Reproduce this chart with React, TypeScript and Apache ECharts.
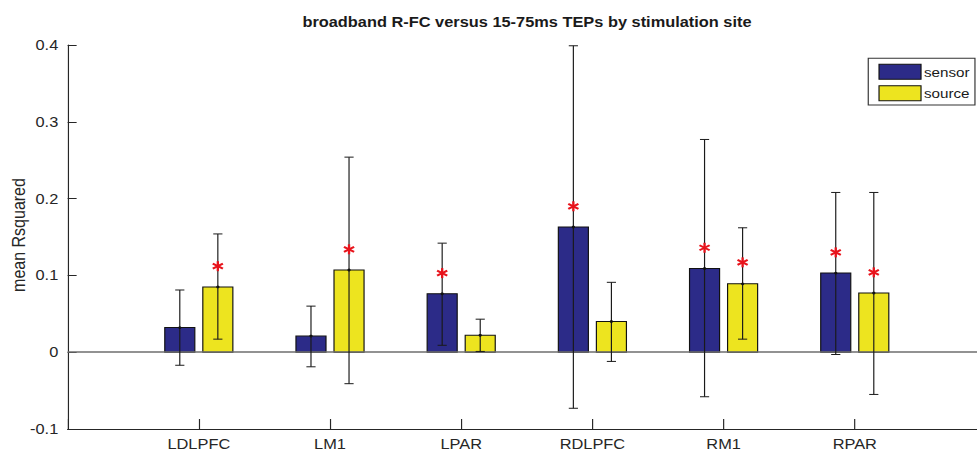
import React, { useEffect, useRef } from "react";
import * as echarts from "echarts";

const categories = ["LDLPFC", "LM1", "LPAR", "RDLPFC", "RM1", "RPAR"];
const sensorMean = [0.032, 0.021, 0.076, 0.163, 0.109, 0.103];
const sensorLow = [-0.017, -0.019, 0.009, -0.073, -0.058, -0.003];
const sensorHigh = [0.081, 0.06, 0.142, 0.399, 0.277, 0.208];
const sourceMean = [0.085, 0.107, 0.022, 0.04, 0.089, 0.077];
const sourceLow = [0.017, -0.041, 0.001, -0.012, 0.017, -0.055];
const sourceHigh = [0.154, 0.254, 0.043, 0.091, 0.162, 0.208];
const sensorStar: (number | null)[] = [null, null, 0.103, 0.19, 0.136, 0.13];
const sourceStar: (number | null)[] = [0.112, 0.134, null, null, 0.117, 0.104];
const yTicks = [-0.1, 0, 0.1, 0.2, 0.3, 0.4];
const yAxisTitle = "mean Rsquared";
const chartTitle = "broadband R-FC versus 15-75ms TEPs by stimulation site";

const STRETCH = 1.17;
const INNER_W = 835;
const H = 453;
const GROUP_OFFSET = 0.145;
const BAR_W = 0.229;
const CAP_W = 0.07;
const FONT = "'Liberation Sans', Arial, Helvetica, sans-serif";
const SENSOR_COLOR = "#2c2b88";
const SOURCE_COLOR = "#ede41f";

function barSeries(name: string, means: number[], offset: number, color: string) {
  return {
    type: "custom",
    name,
    data: means.map((v, i) => [i + 1 + offset, v]),
    encode: { x: 0, y: 1 },
    z: 2,
    renderItem: (params: any, api: any) => {
      const x = api.value(0);
      const v = api.value(1);
      const a = api.coord([x - BAR_W / 2, v]);
      const b = api.coord([x + BAR_W / 2, 0]);
      return {
        type: "rect",
        shape: {
          x: a[0],
          y: Math.min(a[1], b[1]),
          width: b[0] - a[0],
          height: Math.abs(b[1] - a[1]),
        },
        style: { fill: color, stroke: "#111", lineWidth: 1 },
      };
    },
  };
}

function errSeries(means: number[], lows: number[], highs: number[], offset: number) {
  return {
    type: "custom",
    data: means.map((v, i) => [i + 1 + offset, lows[i], highs[i], v]),
    encode: { x: 0, y: [1, 2] },
    z: 4,
    renderItem: (params: any, api: any) => {
      const x = api.value(0);
      const lo = api.coord([x, api.value(1)]);
      const hi = api.coord([x, api.value(2)]);
      const mid = api.coord([x, api.value(3)]);
      const cw = api.size([CAP_W, 0])[0] / 2;
      const st = { stroke: "#1a1a1a", lineWidth: 1 };
      return {
        type: "group",
        children: [
          { type: "line", shape: { x1: lo[0], y1: lo[1], x2: hi[0], y2: hi[1] }, style: st },
          { type: "line", shape: { x1: lo[0] - cw, y1: lo[1], x2: lo[0] + cw, y2: lo[1] }, style: st },
          { type: "line", shape: { x1: hi[0] - cw, y1: hi[1], x2: hi[0] + cw, y2: hi[1] }, style: st },
          { type: "circle", shape: { cx: mid[0], cy: mid[1], r: 1.4 }, style: { fill: "#111" } },
        ],
      };
    },
  };
}

function starSeries(stars: (number | null)[], offset: number) {
  const data: number[][] = [];
  stars.forEach((v, i) => {
    if (v !== null) data.push([i + 1 + offset, v]);
  });
  return {
    type: "custom",
    data,
    encode: { x: 0, y: 1 },
    z: 6,
    renderItem: (params: any, api: any) => {
      const p = api.coord([api.value(0), api.value(1)]);
      const r = 5;
      const st = { stroke: "#e8141c", lineWidth: 2 };
      const dx = r * Math.cos(Math.PI / 6);
      const dy = r * Math.sin(Math.PI / 6);
      return {
        type: "group",
        children: [
          { type: "line", shape: { x1: p[0], y1: p[1] - r, x2: p[0], y2: p[1] + r }, style: st },
          { type: "line", shape: { x1: p[0] - dx, y1: p[1] - dy, x2: p[0] + dx, y2: p[1] + dy }, style: st },
          { type: "line", shape: { x1: p[0] - dx, y1: p[1] + dy, x2: p[0] + dx, y2: p[1] - dy }, style: st },
        ],
      };
    },
  };
}

export default function App() {
  const ref = useRef<HTMLDivElement>(null);
  useEffect(() => {
    if (!ref.current) return;
    const chart = echarts.init(ref.current, undefined, {
      renderer: "svg",
      width: INNER_W,
      height: H,
    });
    const option: any = {
      animation: false,
      backgroundColor: "#ffffff",
      textStyle: { fontFamily: FONT },
      grid: {
        left: 57.8,
        top: 45,
        width: 784.9,
        height: 384,
        containLabel: false,
        outerBoundsMode: "none",
      },
      xAxis: {
        type: "value",
        min: 0,
        max: 7,
        interval: 1,
        splitLine: { show: false },
        axisLine: { show: true, onZero: false, lineStyle: { color: "#262626", width: 1 } },
        axisTick: { show: true, inside: true, length: 10, lineStyle: { color: "#262626" } },
        axisLabel: {
          fontSize: 14,
          fontFamily: FONT,
          color: "#262626",
          margin: 8,
          formatter: (v: number) => categories[Math.round(v) - 1] ?? "",
        },
      },
      yAxis: {
        type: "value",
        min: yTicks[0],
        max: yTicks[yTicks.length - 1],
        interval: 0.1,
        splitLine: { show: false },
        axisLine: { show: true, onZero: false, lineStyle: { color: "#262626", width: 1 } },
        axisTick: { show: true, inside: true, length: 7.7, lineStyle: { color: "#262626" } },
        axisLabel: {
          fontSize: 14,
          fontFamily: FONT,
          color: "#262626",
          margin: 8,
          formatter: (v: number) => String(Math.round(v * 10) / 10),
        },
      },
      graphic: [
        {
          type: "text",
          x: 450.4,
          y: 22,
          style: {
            text: chartTitle,
            font: `bold 14px ${FONT}`,
            fill: "#1a1a1a",
            textAlign: "center",
            textVerticalAlign: "middle",
          },
        },
        {
          type: "text",
          x: 16,
          y: 235,
          rotation: Math.PI / 2,
          style: {
            text: yAxisTitle,
            font: `16px ${FONT}`,
            fill: "#262626",
            textAlign: "center",
            textVerticalAlign: "middle",
          },
        },
        {
          type: "group",
          z: 10,
          children: [
            { type: "rect", shape: { x: 742.1, y: 58.3, width: 91.2, height: 46.7 }, style: { fill: "#fff", stroke: "#333", lineWidth: 1 } },
            { type: "rect", shape: { x: 751.3, y: 64.3, width: 35.9, height: 15 }, style: { fill: SENSOR_COLOR, stroke: "#111", lineWidth: 1 } },
            { type: "rect", shape: { x: 751.3, y: 85.7, width: 35.9, height: 15 }, style: { fill: SOURCE_COLOR, stroke: "#111", lineWidth: 1 } },
            { type: "text", x: 789.7, y: 72, style: { text: "sensor", font: `13px ${FONT}`, fill: "#1a1a1a", textVerticalAlign: "middle" } },
            { type: "text", x: 789.7, y: 93, style: { text: "source", font: `13px ${FONT}`, fill: "#1a1a1a", textVerticalAlign: "middle" } },
          ],
        },
      ],
      series: [
        {
          ...barSeries("sensor", sensorMean, -GROUP_OFFSET, SENSOR_COLOR),
          markLine: {
            silent: true,
            symbol: "none",
            label: { show: false },
            lineStyle: { color: "#6e6e6e", width: 1.5, type: "solid" },
            data: [{ yAxis: 0 }],
            z: 3,
          },
        },
        barSeries("source", sourceMean, GROUP_OFFSET, SOURCE_COLOR),
        errSeries(sensorMean, sensorLow, sensorHigh, -GROUP_OFFSET),
        errSeries(sourceMean, sourceLow, sourceHigh, GROUP_OFFSET),
        starSeries(sensorStar, -GROUP_OFFSET),
        starSeries(sourceStar, GROUP_OFFSET),
      ],
    };
    chart.setOption(option);
    return () => chart.dispose();
  }, []);

  return (
    <div style={{ position: "absolute", left: 0, top: 0, width: 977, height: H, overflow: "hidden", background: "#fff" }}>
      <div
        ref={ref}
        style={{ width: INNER_W, height: H, transform: `scaleX(${STRETCH})`, transformOrigin: "0 0" }}
      />
    </div>
  );
}
